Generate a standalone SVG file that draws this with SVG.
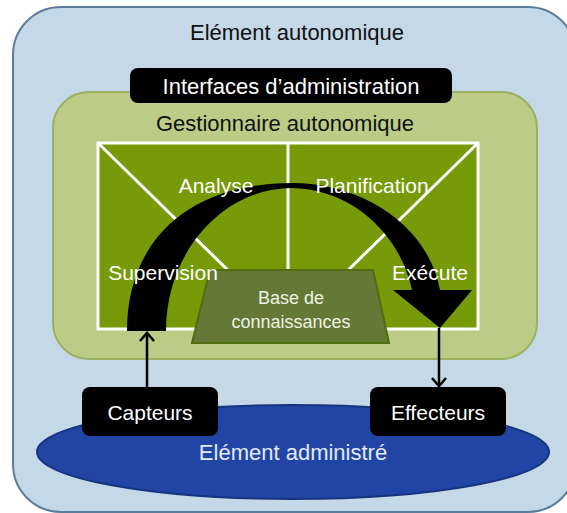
<svg xmlns="http://www.w3.org/2000/svg" width="567" height="513" viewBox="0 0 567 513">
<style>
text{font-family:"Liberation Sans",Arial,sans-serif;text-anchor:middle}
.dark{fill:#111}
.white{fill:#fff}
.blackbox{fill:#000}
.conn{stroke:#000;stroke-width:2.5;fill:none}
.grid{stroke:#fff;stroke-width:3;fill:none}
</style>
<defs>
<marker id="chev" markerUnits="userSpaceOnUse" markerWidth="20" markerHeight="20" refX="9" refY="8" orient="auto" viewBox="0 0 20 16">
<path d="M1,1 L9,8 L1,15" fill="none" stroke="#000" stroke-width="2.5"/>
</marker>
</defs>

<g id="element-autonomique">
<rect x="13" y="7" width="563" height="505" rx="48" fill="#c5d8e7" stroke="#5b7d9b" stroke-width="2"/>
<text x="297" y="40" font-size="22" class="dark">Elément autonomique</text>
</g>

<g id="gestionnaire-autonomique">
<rect x="53" y="92" width="484" height="267" rx="36" fill="#bccc87" stroke="#9cb062" stroke-width="2"/>
<text x="285" y="131" font-size="22" class="dark">Gestionnaire autonomique</text>
</g>

<g id="interfaces-administration">
<rect x="130" y="68" width="322" height="35" rx="8" class="blackbox"/>
<text x="291" y="94" font-size="22" class="white">Interfaces d’administration</text>
</g>

<g id="mape">
<rect x="98" y="143" width="380" height="186" fill="#769a08"/>
<path class="grid" d="M98,143 L288,329 L478,143 M288,143 L288,329"/>
<rect x="98" y="143" width="380" height="186" class="grid"/>
</g>

<g id="cycle">
<path d="M127,331 C127,240 190,183 292,183 C362,183 428,225 440,290 L472,290 L440,328 L393,290 L412,290 C400,234 352,189 292,188 C225,188 166,250 166,331 Z" fill="#000"/>
</g>

<g id="base-de-connaissances">
<path d="M210,270 L373,270 L389,343 L192,343 Z" fill="#647935" stroke="#4f6e12" stroke-width="2"/>
<text x="291" y="304" font-size="18" fill="#eef2e4">Base de</text>
<text x="291" y="328" font-size="18" fill="#eef2e4">connaissances</text>
</g>

<g id="labels">
<text x="216" y="193" font-size="21" class="white">Analyse</text>
<text x="372" y="193" font-size="21" class="white">Planification</text>
<text x="163" y="280" font-size="21" class="white">Supervision</text>
<text x="430" y="280" font-size="21" class="white">Exécute</text>
</g>

<g id="element-administre">
<ellipse cx="293" cy="452" rx="256" ry="47" fill="#2145a5" stroke="#17357e" stroke-width="2"/>
<text x="293" y="460" font-size="22" fill="#e3eaf7">Elément administré</text>
</g>

<g id="capteurs">
<rect x="82" y="387" width="136" height="49" rx="8" class="blackbox"/>
<text x="150" y="420" font-size="21" class="white">Capteurs</text>
</g>

<g id="effecteurs">
<rect x="370" y="387" width="136" height="49" rx="8" class="blackbox"/>
<text x="438" y="420" font-size="21" class="white">Effecteurs</text>
</g>

<g id="connectors">
<line class="conn" x1="147" y1="387" x2="147" y2="333" marker-end="url(#chev)"/>
<line class="conn" x1="439" y1="328" x2="439" y2="386" marker-end="url(#chev)"/>
</g>
</svg>
